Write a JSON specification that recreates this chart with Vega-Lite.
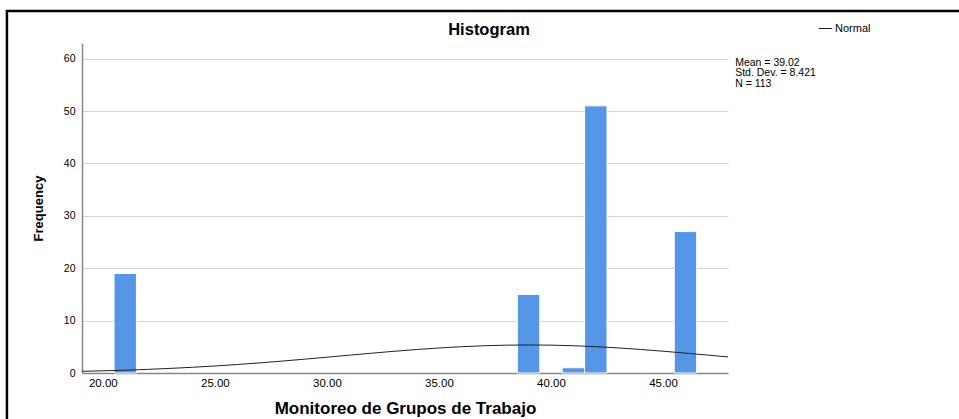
{
  "$schema": "https://vega.github.io/schema/vega-lite/v6.json",
  "width": 646,
  "height": 330,
  "autosize": {"type": "none"},
  "padding": {"left": 82, "top": 43, "right": 231, "bottom": 46},
  "background": "white",
  "config": {"font": "Liberation Sans", "view": {"stroke": null}},
  "title": {"text": "Histogram", "fontSize": 16.5, "fontWeight": "bold", "anchor": "middle", "dx": 84, "offset": -29, "color": "#000000"},
  "datasets": {
    "bins": [
      {"bin_start": 20.5, "bin_end": 21.5, "count": 19},
      {"bin_start": 38.5, "bin_end": 39.5, "count": 15},
      {"bin_start": 40.5, "bin_end": 41.5, "count": 1},
      {"bin_start": 41.5, "bin_end": 42.5, "count": 51},
      {"bin_start": 45.5, "bin_end": 46.5, "count": 27}
    ],
    "normal": [
      {"x": 19.07, "y": 0.323}, {"x": 20, "y": 0.418}, {"x": 21, "y": 0.542}, {"x": 22, "y": 0.695},
      {"x": 23, "y": 0.877}, {"x": 24, "y": 1.091}, {"x": 25, "y": 1.339}, {"x": 26, "y": 1.621},
      {"x": 27, "y": 1.933}, {"x": 28, "y": 2.274}, {"x": 29, "y": 2.638}, {"x": 30, "y": 3.017},
      {"x": 31, "y": 3.402}, {"x": 32, "y": 3.782}, {"x": 33, "y": 4.146}, {"x": 34, "y": 4.482},
      {"x": 35, "y": 4.777}, {"x": 36, "y": 5.020}, {"x": 37, "y": 5.201}, {"x": 38, "y": 5.314},
      {"x": 39, "y": 5.353}, {"x": 40, "y": 5.318}, {"x": 41, "y": 5.207}, {"x": 42, "y": 5.029},
      {"x": 43, "y": 4.788}, {"x": 44, "y": 4.495}, {"x": 45, "y": 4.161}, {"x": 46, "y": 3.797},
      {"x": 47, "y": 3.417}, {"x": 47.9, "y": 3.070}
    ],
    "stats": [{"mean": 39.02, "sd": 8.421, "n": 113}]
  },
  "layer": [
    {
      "data": {"name": "bins"},
      "mark": {"type": "bar", "color": "#5596e6", "stroke": "#ffffff", "strokeWidth": 1},
      "encoding": {
        "x": {
          "field": "bin_start", "type": "quantitative",
          "scale": {"domain": [19.07, 47.9], "nice": false, "zero": false},
          "axis": {
            "values": [20, 25, 30, 35, 40, 45], "format": ".2f", "grid": false, "ticks": false,
            "labelFontSize": 11.5, "labelColor": "#000000", "labelPadding": 4,
            "domainColor": "#888888", "domainWidth": 1.5,
            "title": "Monitoreo de Grupos de Trabajo", "titleFontSize": 17, "titleFontWeight": "bold",
            "titleColor": "#000000", "titleY": 35, "titleBaseline": "middle"
          }
        },
        "x2": {"field": "bin_end"},
        "y": {
          "field": "count", "type": "quantitative",
          "scale": {"domain": [0, 63], "nice": false},
          "axis": {
            "values": [0, 10, 20, 30, 40, 50, 60], "grid": true, "gridColor": "#d4d4d4", "gridWidth": 1,
            "ticks": false, "labelFontSize": 10.5, "labelColor": "#000000", "labelPadding": 7,
            "domainColor": "#888888", "domainWidth": 1.5,
            "title": "Frequency", "titleFont": "Liberation Sans", "titleFontSize": 13,
            "titleFontWeight": "bold", "titleColor": "#000000",
            "titleX": -44, "titleY": 165, "titleAlign": "center", "titleBaseline": "middle", "titleAngle": -90
          }
        },
        "y2": {"datum": 0}
      }
    },
    {
      "data": {"name": "normal"},
      "mark": {"type": "line", "strokeWidth": 1, "interpolate": "monotone"},
      "encoding": {
        "x": {"field": "x", "type": "quantitative"},
        "y": {"field": "y", "type": "quantitative"},
        "color": {
          "datum": "Normal",
          "scale": {"range": ["#222222"]},
          "legend": {
            "title": null, "orient": "none", "legendX": 736, "legendY": -22,
            "labelFontSize": 11, "labelColor": "#000000", "symbolType": "stroke",
            "symbolSize": 180, "symbolStrokeWidth": 1, "labelOffset": 2
          }
        }
      }
    },
    {
      "data": {"name": "stats"},
      "mark": {
        "type": "text", "text": ["Mean = 39.02", "Std. Dev. = 8.421", "N = 113"],
        "align": "left", "baseline": "top", "fontSize": 10.5, "lineHeight": 10.5, "color": "#000000"
      },
      "encoding": {
        "x": {"datum": 48.22, "type": "quantitative"},
        "y": {"datum": 60.2, "type": "quantitative"}
      }
    },
    {
      "data": {"name": "stats"},
      "mark": {"type": "rect", "filled": false, "stroke": "#000000", "strokeWidth": 2.5, "clip": false},
      "encoding": {
        "x": {"datum": 15.72, "type": "quantitative"},
        "x2": {"datum": 70},
        "y": {"datum": 69.1, "type": "quantitative"},
        "y2": {"datum": -30}
      }
    }
  ]
}
